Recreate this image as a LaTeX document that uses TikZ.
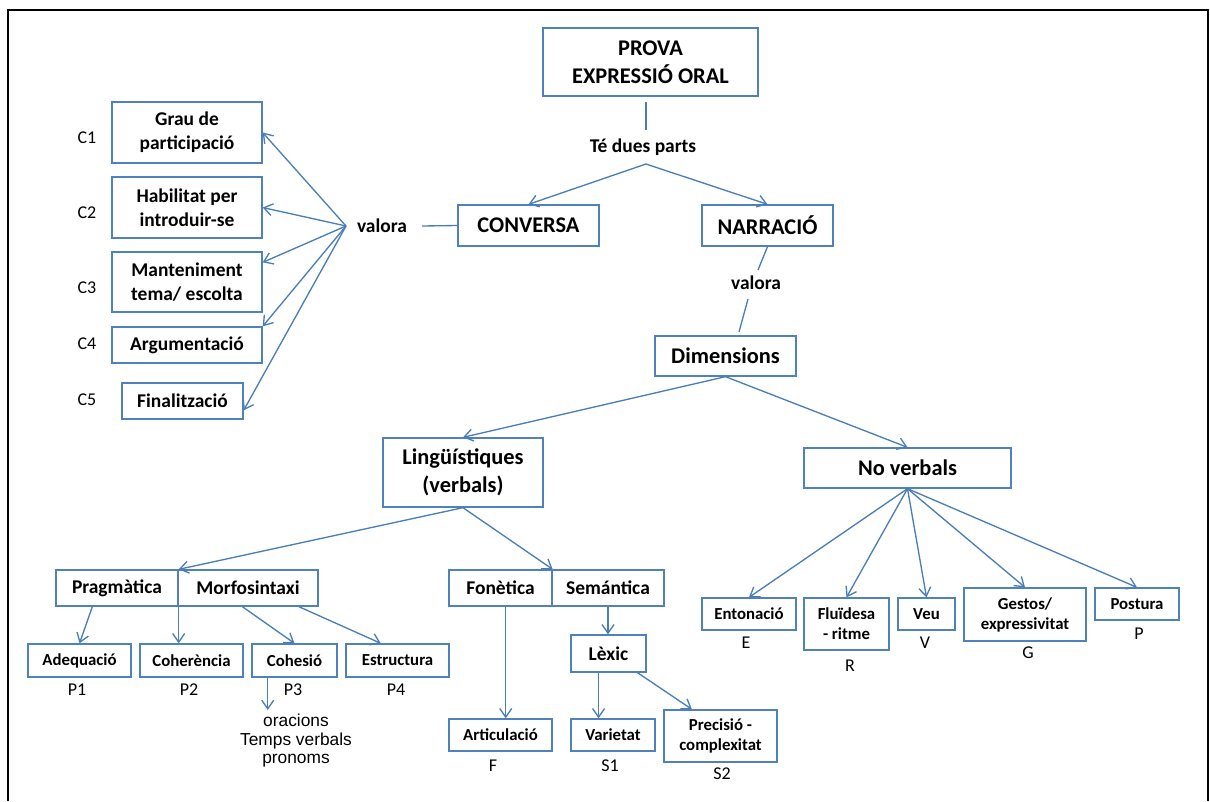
\documentclass[tikz,border=0pt]{standalone}
\usepackage{fontspec}
\setmainfont{Carlito}
\newfontfamily\arialf{Liberation Sans}
\usetikzlibrary{arrows.meta,calc}
\definecolor{bxc}{HTML}{4F81BD}
\definecolor{lnc}{HTML}{4A7EBB}
\begin{document}
\begin{tikzpicture}[x=0.75pt,y=-0.75pt,
 bx/.style 2 args={draw=bxc, line width=1pt, minimum width=#1*0.75pt, minimum height=#2*0.75pt, inner sep=0pt, align=center},
 big/.style={font=\fontsize{16.8pt}{21pt}\selectfont\bfseries},
 mid/.style={font=\fontsize{14.6pt}{18pt}\selectfont\bfseries},
 sml/.style={font=\fontsize{12.6pt}{15pt}\selectfont\bfseries},
 lab/.style={font=\fontsize{13.5pt}{16pt}\selectfont, inner sep=0pt},
 ln/.style={draw=lnc, line width=1pt},
 arr/.style={ln, -{Straight Barb[length=6.5pt,width=9pt]}},
]
\useasboundingbox (0,0) rectangle (1210,801);
\draw[line width=1.5pt] (8,801) -- (8,10) -- (1207.5,10) -- (1207.5,801);

% left group
\node[bx={150}{61}, mid] (grau) at (187,132.5) {Grau de\\participació};
\node[bx={150}{61}, mid] (hab) at (187,207.5) {Habilitat per\\introduir-se};
\node[bx={150}{60}, mid] (mant) at (187,282) {Manteniment\\tema/ escolta};
\node[bx={150}{36}, mid] (arg) at (187,345) {Argumentació};
\node[bx={121}{36}, mid] (fin) at (182.5,401) {Finalització};
\node[lab] (c1) at (87,138) {C1};
\node[lab] (c2) at (87,213) {C2};
\node[lab] (c3) at (87,288) {C3};
\node[lab] (c4) at (87,344) {C4};
\node[lab] (c5) at (87,400) {C5};
\node[mid, inner sep=0pt] (val1) at (382,226) {valora};
\coordinate (hub) at (346,226);
\coordinate (vend) at (422,226);

% top
\node[bx={215}{68}, big] (prova) at (650.5,62) {PROVA\\EXPRESSIÓ ORAL};
\node[mid, inner sep=0pt] (parts) at (643,147) {Té dues parts};
\coordinate (p1) at (646,102);
\coordinate (p2) at (646,130);
\coordinate (split) at (646,164);
\node[bx={141}{41}, big] (conv) at (528.5,225.5) {CONVERSA};
\node[bx={131}{41}, big] (narr) at (767.5,225.5) {NARRACIÓ};
\node[mid, inner sep=0pt] (val2) at (756,283) {valora};
\coordinate (v2a) at (758,270);
\coordinate (v2b) at (748,299);
\coordinate (v2c) at (739,332);
\node[bx={141}{40}, big] (dim) at (725.5,356) {Dimensions};

% second level
\node[bx={160}{69}, big] (ling) at (463,472.5) {Lingüístiques\\(verbals)};
\node[bx={207}{40}, big] (nov) at (907.5,468) {No verbals};

\node[bx={122}{36}, mid] (prag) at (117,588) {Pragmàtica};
\node[bx={140}{36}, mid] (morf) at (248,588) {Morfosintaxi};
\node[bx={103}{36}, mid] (fon) at (500.5,588) {Fonètica};
\node[bx={112}{36}, mid] (sem) at (608,588) {Semántica};

\node[bx={103}{33}, sml] (adeq) at (79.5,660.5) {Adequació};
\node[bx={103}{33}, sml] (coh) at (191.5,660.5) {Coherència};
\node[bx={85}{33}, sml] (cohes) at (294.5,660.5) {Cohesió};
\node[bx={103}{33}, sml] (estr) at (397.5,660.5) {Estructura};
\node[lab] (lp1) at (77,690) {P1};
\node[lab] (lp2) at (189,690) {P2};
\node[lab] (lp3) at (293,690) {P3};
\node[lab] (lp4) at (396,690) {P4};
\node[font={\fontsize{13pt}{13.9pt}\arialf}, align=center, inner sep=0pt, anchor=north] (ora) at (296,714) {oracions\\Temps verbals\\pronoms};

\node[bx={103}{32}, sml] (art) at (500.5,735) {Articulació};
\node[bx={75}{37}, mid] (lex) at (608.5,653.5) {Lèxic};
\node[bx={84}{32}, sml] (var) at (613,735) {Varietat};
\node[bx={113}{52}, sml] (prec) at (720.5,736) {Precisió -\\complexitat};
\node[lab] (lf) at (493,766) {F};
\node[lab] (ls1) at (610,766) {S1};
\node[lab] (ls2) at (722,774) {S2};

\node[bx={94}{32}, sml] (ento) at (749,614) {Entonació};
\node[bx={85}{52}, sml] (flu) at (846.5,624) {Fluïdesa\\- ritme};
\node[bx={57}{32}, sml] (veu) at (926.5,614) {Veu};
\node[bx={122}{53}, sml] (ges) at (1025,614.5) {Gestos/\\expressivitat};
\node[bx={84}{32}, sml] (post) at (1137,604) {Postura};
\node[lab] (le) at (746,643) {E};
\node[lab] (lr) at (850,666) {R};
\node[lab] (lv) at (925,643) {V};
\node[lab] (lg) at (1028,653) {G};
\node[lab] (lpp) at (1139,634) {P};

% connectors: left group
\draw[arr] (hub) -- (grau.east);
\draw[arr] (hub) -- (hab.east);
\draw[arr] (hub) -- ($(mant.north east)!0.18!(mant.south east)$);
\draw[arr] (hub) -- (arg.north east);
\draw[arr] (hub) -- ($(fin.north east)!0.75!(fin.south east)$);
\draw[ln] (conv.west) -- (vend);

% top connectors
\draw[ln] (p1) -- (p2);
\draw[arr] (split) -- (conv.north);
\draw[arr] (split) -- (narr.north);
\draw[ln] (narr.south) -- (v2a);
\draw[ln] (v2b) -- (v2c);
\draw[arr] (dim.south) -- (ling.north);
\draw[arr] (dim.south) -- (nov.north);

% linguistic
\draw[arr] (ling.south) -- (prag.north east);
\draw[arr] (ling.south) -- (fon.north east);
\draw[arr] ($(prag.south west)!0.30!(prag.south east)$) -- (adeq.north);
\draw[arr] (prag.south east) -- (prag.south east |- coh.north);
\draw[arr] ($(morf.south west)!0.46!(morf.south east)$) -- (cohes.north);
\draw[arr] ($(morf.south west)!0.86!(morf.south east)$) -- ($(estr.north west)!0.34!(estr.north east)$);
\coordinate (cq) at ($(cohes.south west)!0.19!(cohes.south east)$);
\draw[arr] (cq) -- ($(cq |- ora.north)+(0,-4)$);

\coordinate (fq) at ($(fon.south west)!0.55!(fon.south east)$);
\draw[arr] (fq) -- (fq |- art.north);
\draw[arr] (sem.south) -- (sem.south |- lex.north);
\coordinate (lq) at ($(lex.south west)!0.37!(lex.south east)$);
\draw[arr] (lq) -- (lq |- var.north);
\draw[arr] ($(lex.south west)!0.88!(lex.south east)$) -- ($(prec.north west)!0.25!(prec.north east)$);

% non verbal
\draw[arr] (nov.south) -- (ento.north);
\draw[arr] (nov.south) -- (flu.north);
\draw[arr] (nov.south) -- (veu.north);
\draw[arr] (nov.south) -- (ges.north);
\draw[arr] (nov.south) -- (post.north);
\end{tikzpicture}
\end{document}
